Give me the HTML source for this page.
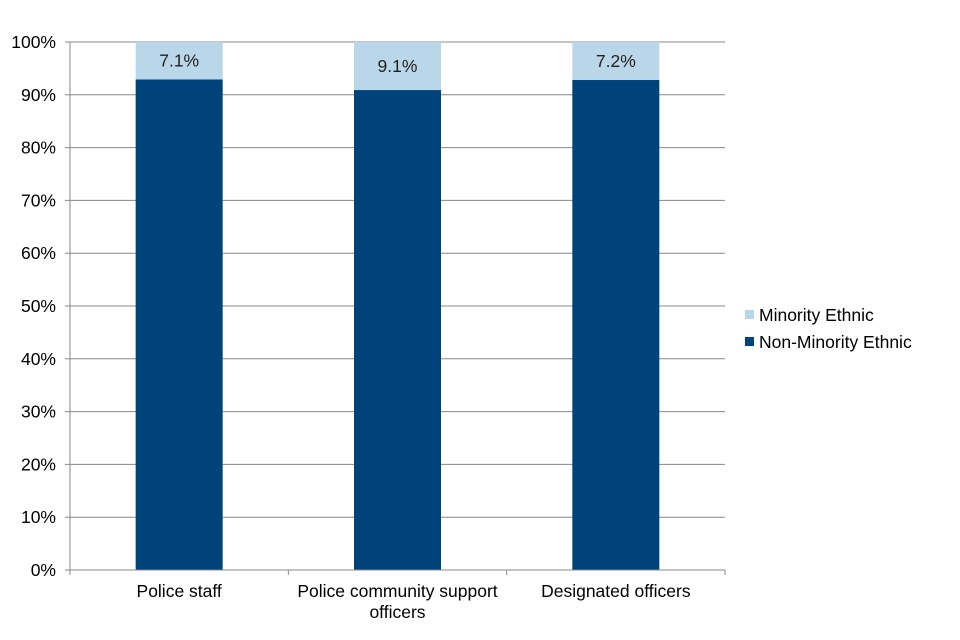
<!DOCTYPE html>
<html><head><meta charset="utf-8"><style>
html,body{margin:0;padding:0;background:#fff;}
svg{display:block;font-family:"Liberation Sans",Arial,sans-serif;}
</style></head><body>
<svg id="chart" width="960" height="640"></svg>
<script>
const categories = [["Police staff"], ["Police community support", "officers"], ["Designated officers"]];
const minorityValues = [7.1, 9.1, 7.2];
const nonMinorityValues = [92.9, 90.9, 92.8];
const yTicks = [0, 10, 20, 30, 40, 50, 60, 70, 80, 90, 100];
const seriesNames = ["Minority Ethnic", "Non-Minority Ethnic"];

const NS = "http://www.w3.org/2000/svg";
const svg = document.getElementById("chart");
const L = 70, R = 725, T = 42, B = 570;
const FS = 17.5;
const catW = (R - L) / categories.length;
const barW = 87;
const y = v => B - (v / 100) * (B - T);
const xc = i => L + catW * (i + 0.5);
function mk(tag, attrs, parent) {
  const e = document.createElementNS(NS, tag);
  for (const k in attrs) e.setAttribute(k, attrs[k]);
  (parent || svg).appendChild(e);
  return e;
}
yTicks.forEach(t => {
  const g = mk("line", {x1: L - 5, x2: R, y1: y(t), y2: y(t), stroke: "#888", "stroke-width": 1});
  
  
  const tx = mk("text", {x: 56, y: y(t) + 6, "text-anchor": "end", "font-size": FS, fill: "#000"});
  tx.textContent = t + "%";
  
  
});
categories.forEach((c, i) => {
  const x0 = xc(i) - barW / 2;
  const nm = nonMinorityValues[i], mi = minorityValues[i];
  const b1 = mk("rect", {x: x0, y: y(nm), width: barW, height: y(0) - y(nm), fill: "#00427A"});
  
  
  const b2 = mk("rect", {x: x0, y: y(nm + mi), width: barW, height: y(nm) - y(nm + mi), fill: "#B9D7E8"});
  
  
  const lb = mk("text", {x: xc(i), y: (y(nm) + y(nm + mi)) / 2 + 6, "text-anchor": "middle", "font-size": FS, fill: "#222"});
  lb.textContent = mi.toFixed(1) + "%";
  
  
  c.forEach((line, j) => {
    const ct = mk("text", {x: xc(i), y: 597 + j * 21, "text-anchor": "middle", "font-size": FS, fill: "#000"});
    ct.textContent = line;
    
    
  });
});
const ya = mk("line", {x1: L, x2: L, y1: T, y2: B, stroke: "#888"});


const xa = mk("line", {x1: L, x2: R, y1: B, y2: B, stroke: "#888"});


for (let i = 0; i <= categories.length; i++) {
  const tk = mk("line", {x1: L + catW * i, x2: L + catW * i, y1: B, y2: B + 5, stroke: "#888"});
  
  
}
const legColors = ["#B9D7E8", "#00427A"];
seriesNames.forEach((s, i) => {
  const ly = 315 + i * 27;
  const sw = mk("rect", {x: 745, y: ly - 5, width: 9, height: 9, fill: legColors[i]});
  
  
  const lt = mk("text", {x: 759, y: ly + 6, "font-size": FS, fill: "#000"});
  lt.textContent = s;
  
  
});
</script>
</body></html>
